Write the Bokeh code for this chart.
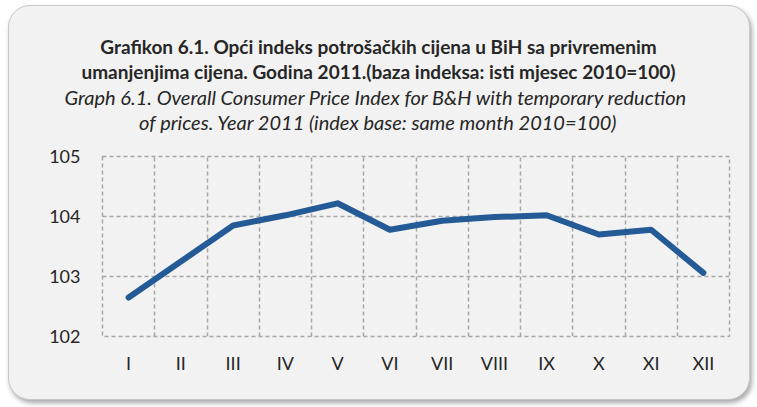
from bokeh.plotting import figure
from bokeh.models import FixedTicker, Range1d, ColumnDataSource
from bokeh.layouts import column
from bokeh.core.properties import value
from bokeh.embed import file_html
from bokeh.resources import INLINE

months = ["I", "II", "III", "IV", "V", "VI", "VII", "VIII", "IX", "X", "XI", "XII"]
cpi = [102.65, 103.25, 103.85, 104.02, 104.22, 103.78, 103.93, 103.99, 104.02, 103.70, 103.78, 103.06]
y_ticks = [102, 103, 104, 105]

title_texts = [
    "Grafikon 6.1. Opći indeks potrošačkih cijena u BiH sa privremenim",
    "umanjenjima cijena. Godina 2011.(baza indeksa: isti mjesec 2010=100)",
    "Graph 6.1. Overall Consumer Price Index  for B&H with temporary reduction",
    "of prices. Year 2011 (index base: same month 2010=100)",
]
title_styles = ["bold", "bold", "italic", "italic"]
title_sizes = ["19px", "19px", "20px", "20px"]

W = 740

# ---- header with the four title lines
head = figure(width=W, height=140, output_backend="svg", toolbar_location=None,
              x_range=Range1d(0, W), y_range=Range1d(140, 0),
              x_axis_type=None, y_axis_type=None,
              min_border_left=0, min_border_right=0, min_border_top=0, min_border_bottom=0)
head.frame_align = False
head.grid.visible = False
head.outline_line_color = None
head.background_fill_color = None
head.border_fill_color = None
src = ColumnDataSource(dict(x=[369] * 4, y=[40, 65, 90, 115], t=title_texts, s=title_styles,
                            fs=title_sizes))
head.text(x="x", y="y", text="t", source=src, text_align="center", text_baseline="middle",
          text_font=value("Lato"), text_font_size="fs", text_font_style="s",
          text_color="#262626")

# ---- chart
xs = [i + 0.5 for i in range(len(months))]
p = figure(frame_width=627, frame_height=180, output_backend="svg", toolbar_location=None,
           x_range=Range1d(0, len(months)), y_range=Range1d(102, 105),
           min_border_left=93, min_border_right=20, min_border_top=10, min_border_bottom=63)
p.frame_align = False
p.border_fill_color = None
p.background_fill_color = "#f2f2f2"
p.outline_line_color = "#a6a6a6"
p.outline_line_dash = "4 3"
p.outline_line_width = 1.5

p.line(xs, cpi, line_color="#245b96", line_width=6, line_join="round", line_cap="round")

p.xaxis.ticker = FixedTicker(ticks=xs)
p.xaxis.major_label_overrides = {x: m for x, m in zip(xs, months)}
p.yaxis.ticker = FixedTicker(ticks=y_ticks)
for ax in (p.xaxis[0], p.yaxis[0]):
    ax.axis_line_color = None
    ax.major_tick_line_color = None
    ax.minor_tick_line_color = None
    ax.major_label_text_font = "Lato"
    ax.major_label_text_font_size = "18px"
    ax.major_label_text_color = "#262626"
p.xaxis.major_label_standoff = 9
p.yaxis.major_label_standoff = 16

p.xgrid.ticker = FixedTicker(ticks=list(range(1, len(months))))
p.ygrid.ticker = FixedTicker(ticks=[103, 104])
for g in (p.xgrid[0], p.ygrid[0]):
    g.grid_line_color = "#a6a6a6"
    g.grid_line_dash = "4 3"
    g.grid_line_width = 1.5

layout = column(head, p, spacing=0)
layout.styles = {"border-radius": "22px", "background": "#f2f2f2", "margin": "5px 0 0 8px",
                 "border": "1px solid #c8c8c8", "box-shadow": "2px 3px 5px rgba(0,0,0,0.35)"}

open("out.html", "w").write(file_html(layout, INLINE))
